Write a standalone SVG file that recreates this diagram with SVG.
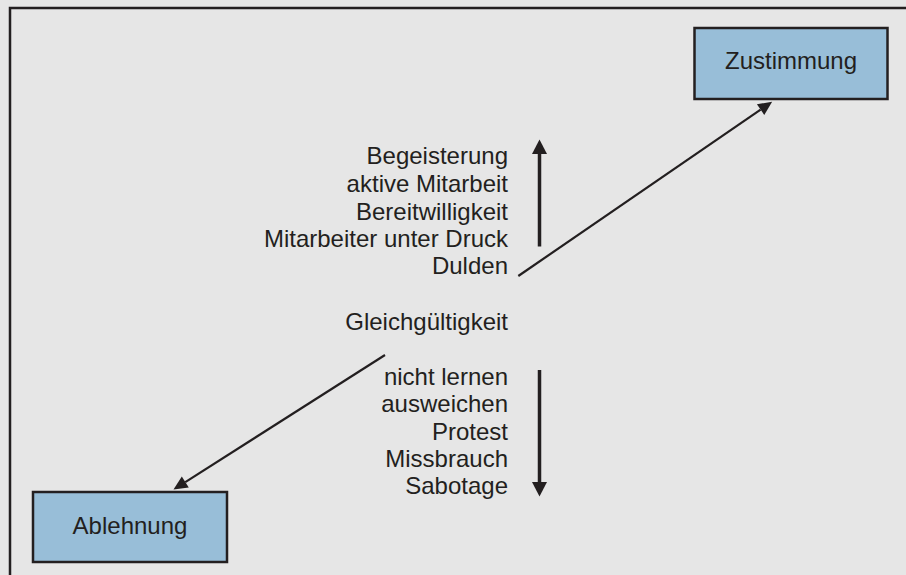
<svg xmlns="http://www.w3.org/2000/svg" width="906" height="575" viewBox="0 0 906 575">
  <style>
    .lbl { font-family: "Liberation Sans", Arial, sans-serif; font-size: 24px; fill: #231f20; }
    .end { text-anchor: end; }
    .mid { text-anchor: middle; }
    .box { fill: #98bed8; stroke: #231f20; stroke-width: 2.5; }
    .thick { stroke: #231f20; stroke-width: 3.5; fill: none; }
    .thin { stroke: #231f20; stroke-width: 2.2; fill: none; }
  </style>
  <defs>
    <marker id="headBig" markerUnits="userSpaceOnUse" markerWidth="16" markerHeight="16" refX="0" refY="7.5" orient="auto" overflow="visible">
      <path d="M0,0 L14.5,7.5 L0,15 Z" fill="#231f20"/>
    </marker>
    <marker id="headSmall" markerUnits="userSpaceOnUse" markerWidth="16" markerHeight="14" refX="0" refY="6.5" orient="auto" overflow="visible">
      <path d="M0,0 L14,6.5 L0,13 Z" fill="#231f20"/>
    </marker>
  </defs>
  <rect x="0" y="0" width="906" height="575" fill="#e6e6e6"/>
  <rect x="10" y="8" width="1000" height="1000" fill="#e6e6e6" stroke="#231f20" stroke-width="2.5"/>

  <g id="connectors">
    <line class="thin" x1="518.3" y1="276" x2="760.6" y2="109.6" marker-end="url(#headSmall)"/>
    <line class="thin" x1="385" y1="355" x2="185.3" y2="482.1" marker-end="url(#headSmall)"/>
    <line class="thick" x1="539.5" y1="246.5" x2="539.5" y2="154" marker-end="url(#headBig)"/>
    <line class="thick" x1="539.5" y1="370" x2="539.5" y2="482" marker-end="url(#headBig)"/>
  </g>

  <g id="zustimmung">
    <rect class="box" x="694.5" y="28" width="193" height="71"/>
    <text class="lbl mid" x="791" y="69">Zustimmung</text>
  </g>

  <g id="ablehnung">
    <rect class="box" x="33" y="492" width="194" height="70"/>
    <text class="lbl mid" x="130" y="533.5">Ablehnung</text>
  </g>

  <g id="positive">
    <text class="lbl end" x="508" y="164.3">Begeisterung</text>
    <text class="lbl end" x="508" y="192">aktive Mitarbeit</text>
    <text class="lbl end" x="508" y="219.7">Bereitwilligkeit</text>
    <text class="lbl end" x="508" y="247">Mitarbeiter unter Druck</text>
    <text class="lbl end" x="508" y="274.3">Dulden</text>
  </g>

  <g id="neutral">
    <text class="lbl end" x="508" y="330">Gleichgültigkeit</text>
  </g>

  <g id="negative">
    <text class="lbl end" x="508" y="385">nicht lernen</text>
    <text class="lbl end" x="508" y="412">ausweichen</text>
    <text class="lbl end" x="508" y="439.5">Protest</text>
    <text class="lbl end" x="508" y="466.8">Missbrauch</text>
    <text class="lbl end" x="508" y="494">Sabotage</text>
  </g>
</svg>
